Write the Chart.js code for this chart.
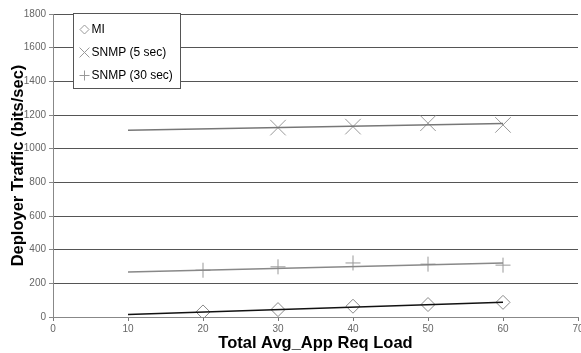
<!DOCTYPE html>
<html><head><meta charset="utf-8">
<script src="https://cdn.jsdelivr.net/npm/chart.js@4/dist/chart.umd.min.js"></script>
<style>html,body{margin:0;padding:0;background:#fff}#wrap{width:581px;height:353px}</style>
</head><body><div id="wrap"><canvas id="c" width="581" height="353"></canvas></div>
<script>
const xLoads = [20, 30, 40, 50, 60];
const miValues = [30, 44, 64, 74, 87];
const snmp5Loads = [30, 40, 50, 60];
const snmp5Values = [1125, 1131, 1151, 1141];
const snmp30Values = [278, 298, 321, 314, 308];
const trendLoads = [10, 60];
const miTrend = [15, 87];
const snmp5Trend = [1110, 1150];
const snmp30Trend = [268, 321];
const seriesNames = ['MI', 'SNMP (5 sec)', 'SNMP (30 sec)'];
const yTicks = [0, 200, 400, 600, 800, 1000, 1200, 1400, 1600, 1800];
const xTicks = [0, 10, 20, 30, 40, 50, 60, 70];

const pts = (xs, ys) => xs.map((x, i) => ({x, y: ys[i]}));
const FONT = "'Liberation Sans', Arial, sans-serif";

const legendPlugin = {
  id: 'boxLegend',
  afterDraw(chart) {
    const ctx = chart.ctx;
    const x0 = 73.5, y0 = 13.5, w = 107, h = 75;
    ctx.save();
    ctx.fillStyle = '#fff';
    ctx.fillRect(x0, y0, w, h);
    ctx.strokeStyle = '#555';
    ctx.lineWidth = 1;
    ctx.strokeRect(x0, y0, w, h);
    const styles = ['rectRot', 'crossRot', 'cross'];
    const radii = [4.5, 7, 5];
    ctx.font = '12px ' + FONT;
    ctx.textBaseline = 'middle';
    for (let i = 0; i < 3; i++) {
      const cy = y0 + 16 + i * 23;
      ctx.strokeStyle = '#999';
      ctx.fillStyle = 'rgba(0,0,0,0)';
      ctx.lineWidth = 1;
      Chart.helpers.drawPoint(ctx, {pointStyle: styles[i], radius: radii[i], borderWidth: 1, rotation: 0}, x0 + 11, cy);
      ctx.fillStyle = '#000';
      ctx.fillText(seriesNames[i], x0 + 18, cy);
    }
    ctx.restore();
  }
};

new Chart(document.getElementById('c'), {
  type: 'scatter',
  data: {
    datasets: [
      {label: 'MI trend', type: 'line', data: pts(trendLoads, miTrend), borderColor: '#111', borderWidth: 1.5, pointRadius: 0, fill: false},
      {label: 'SNMP5 trend', type: 'line', data: pts(trendLoads, snmp5Trend), borderColor: '#777', borderWidth: 1.5, pointRadius: 0, fill: false},
      {label: 'SNMP30 trend', type: 'line', data: pts(trendLoads, snmp30Trend), borderColor: '#888', borderWidth: 1.5, pointRadius: 0, fill: false},
      {label: seriesNames[0], data: pts(xLoads, miValues), pointStyle: 'rectRot', pointRadius: 7, borderColor: '#888', backgroundColor: 'rgba(0,0,0,0)', borderWidth: 1},
      {label: seriesNames[1], data: pts(snmp5Loads, snmp5Values), pointStyle: 'crossRot', pointRadius: 11, borderColor: '#999', backgroundColor: 'rgba(0,0,0,0)', borderWidth: 1},
      {label: seriesNames[2], data: pts(xLoads, snmp30Values), pointStyle: 'cross', pointRadius: 7.5, borderColor: '#999', backgroundColor: 'rgba(0,0,0,0)', borderWidth: 1}
    ]
  },
  options: {
    responsive: false,
    animation: false,
    layout: {autoPadding: false, padding: {top: 14, right: 3, left: 1, bottom: 0}},
    plugins: {legend: {display: false}, tooltip: {enabled: false}},
    scales: {
      x: {
        type: 'linear', min: 0, max: 70,
        afterBuildTicks: s => { s.ticks = xTicks.map(v => ({value: v})); },
        afterFit: s => { s.height = 36; s.paddingLeft = 0; s.paddingRight = 0; },
        grid: {drawOnChartArea: false, drawTicks: true, tickLength: 4, color: '#777'},
        border: {color: '#888', width: 1},
        ticks: {color: '#666', font: {family: FONT, size: 10}, padding: 2, maxRotation: 0, callback: v => String(v)},
        title: {display: true, text: 'Total Avg_App Req Load', color: '#000', font: {family: FONT, size: 16.5, weight: 'bold'}, padding: {top: 0, bottom: 0}}
      },
      y: {
        type: 'linear', min: 0, max: 1800,
        afterBuildTicks: s => { s.ticks = yTicks.map(v => ({value: v})); },
        afterFit: s => { s.width = 52; s.paddingTop = 0; s.paddingBottom = 0; },
        grid: {color: '#555', lineWidth: 1, drawTicks: true, tickLength: 4, tickColor: '#888'},
        border: {color: '#888', width: 1},
        ticks: {color: '#666', font: {family: FONT, size: 10}, padding: 3, callback: v => String(v)},
        title: {display: true, text: 'Deployer Traffic (bits/sec)', color: '#000', font: {family: FONT, size: 16.5, weight: 'bold'}, padding: {top: 8, bottom: 4}}
      }
    }
  },
  plugins: [legendPlugin]
});
</script></body></html>
